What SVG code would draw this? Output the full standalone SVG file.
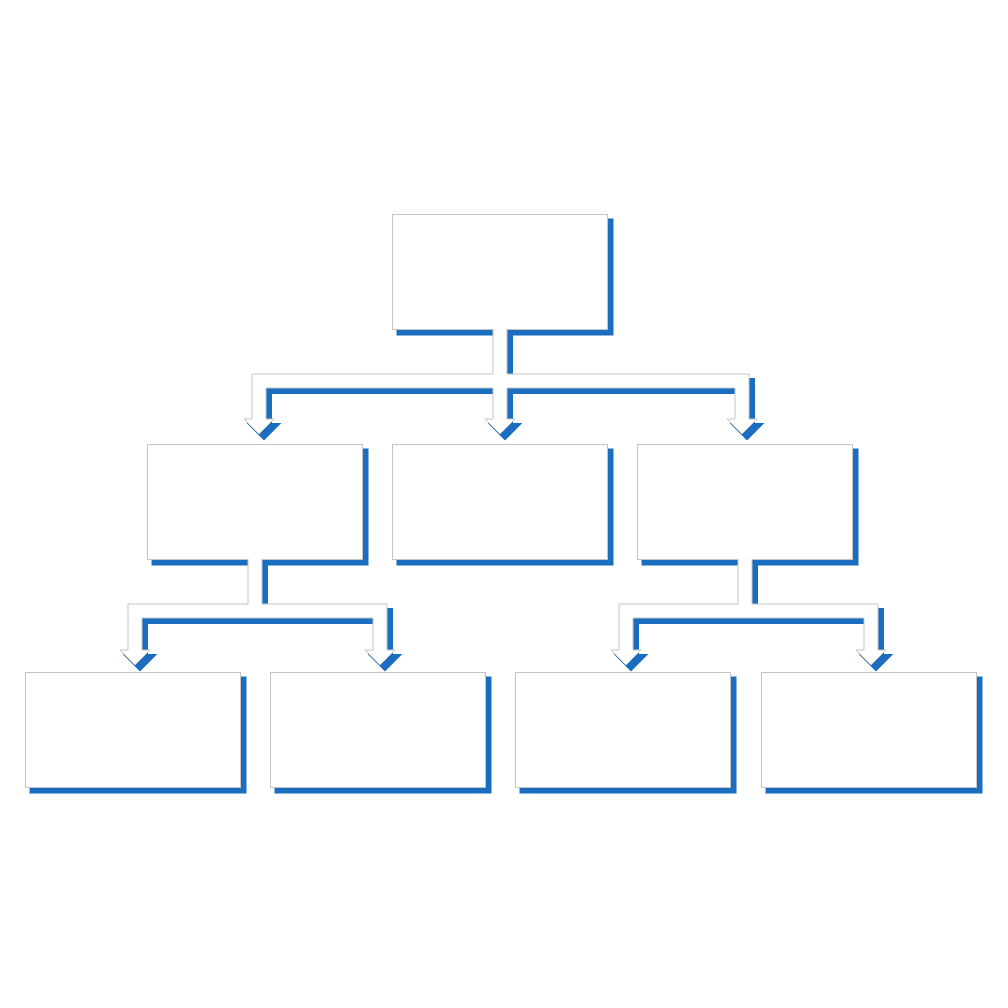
<svg xmlns="http://www.w3.org/2000/svg" xmlns:xlink="http://www.w3.org/1999/xlink" width="1008" height="1008" viewBox="0 0 1008 1008">
<style>
.shadow{fill:#1b6dc0;stroke:#1b6dc0;stroke-width:2;stroke-linejoin:miter}
.box{fill:#ffffff;stroke:#c4c4c4;stroke-width:1}
.cfill{fill:#ffffff;stroke:none}
.cline{fill:none;stroke:#c4c4c4;stroke-width:1;stroke-linejoin:miter}
</style>
<defs>
<rect id="bx" x="0" y="0" width="215" height="115"/>
<path id="c1" d="M493,329 V374 H252 V419 H244 L259,434 L274,419 H266 V388 H493 V419 H485 L500,434 L515,419 H507 V388 H735 V419 H727 L742,434 L757,419 H749 V374 H507 V329 Z"/>
<path id="c2" d="M248,559 V604 H128 V650 H120 L135,665 L150,650 H142 V618 H373 V650 H365 L380,665 L395,650 H387 V604 H262 V559 Z"/>
<path id="c3" d="M738,559 V604 H619 V650 H611 L626,665 L641,650 H633 V618 H864 V650 H856 L871,665 L886,650 H878 V604 H752 V559 Z"/>
</defs>
<rect width="1008" height="1008" fill="#ffffff"/>
<g id="node-top">
<use href="#bx" xlink:href="#bx" class="shadow" x="397.5" y="219.5"/>
<use href="#bx" xlink:href="#bx" class="box" x="392.5" y="214.5"/>
</g>
<g id="node-l2-left">
<use href="#bx" xlink:href="#bx" class="shadow" x="152.5" y="449.5"/>
<use href="#bx" xlink:href="#bx" class="box" x="147.5" y="444.5"/>
</g>
<g id="node-l2-mid">
<use href="#bx" xlink:href="#bx" class="shadow" x="397.5" y="449.5"/>
<use href="#bx" xlink:href="#bx" class="box" x="392.5" y="444.5"/>
</g>
<g id="node-l2-right">
<use href="#bx" xlink:href="#bx" class="shadow" x="642.5" y="449.5"/>
<use href="#bx" xlink:href="#bx" class="box" x="637.5" y="444.5"/>
</g>
<g id="node-l3-1">
<use href="#bx" xlink:href="#bx" class="shadow" x="30.5" y="677.5"/>
<use href="#bx" xlink:href="#bx" class="box" x="25.5" y="672.5"/>
</g>
<g id="node-l3-2">
<use href="#bx" xlink:href="#bx" class="shadow" x="275.5" y="677.5"/>
<use href="#bx" xlink:href="#bx" class="box" x="270.5" y="672.5"/>
</g>
<g id="node-l3-3">
<use href="#bx" xlink:href="#bx" class="shadow" x="520.5" y="677.5"/>
<use href="#bx" xlink:href="#bx" class="box" x="515.5" y="672.5"/>
</g>
<g id="node-l3-4">
<use href="#bx" xlink:href="#bx" class="shadow" x="766.5" y="677.5"/>
<use href="#bx" xlink:href="#bx" class="box" x="761.5" y="672.5"/>
</g>
<g id="connectors">
<use href="#c1" xlink:href="#c1" class="shadow" x="5" y="5"/>
<use href="#c1" xlink:href="#c1" class="cfill"/>
<path class="cline" d="M493,329 V374 H252 V419 H244 L259,434 L274,419 H266 V388 H493 V419 H485 L500,434 L515,419 H507 V388 H735 V419 H727 L742,434 L757,419 H749 V374 H507 V329"/>
<use href="#c2" xlink:href="#c2" class="shadow" x="5" y="5"/>
<use href="#c2" xlink:href="#c2" class="cfill"/>
<path class="cline" d="M248,559 V604 H128 V650 H120 L135,665 L150,650 H142 V618 H373 V650 H365 L380,665 L395,650 H387 V604 H262 V559"/>
<use href="#c3" xlink:href="#c3" class="shadow" x="5" y="5"/>
<use href="#c3" xlink:href="#c3" class="cfill"/>
<path class="cline" d="M738,559 V604 H619 V650 H611 L626,665 L641,650 H633 V618 H864 V650 H856 L871,665 L886,650 H878 V604 H752 V559"/>
</g>
</svg>
